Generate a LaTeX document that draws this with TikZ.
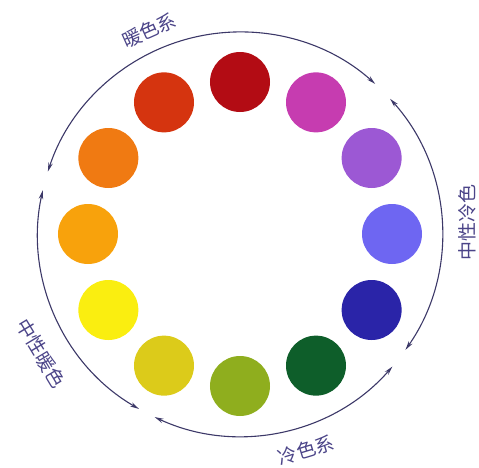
\documentclass[tikz,border=0pt]{standalone}
\usepackage{fontspec}
\newfontfamily\cjkfont{Noto Sans CJK SC}
\usepackage{xcolor}
\definecolor{hueA}{HTML}{B30C14}
\definecolor{hueB}{HTML}{C63CB0}
\definecolor{hueC}{HTML}{9C58D4}
\definecolor{hueD}{HTML}{6E66F2}
\definecolor{hueE}{HTML}{2A24A8}
\definecolor{hueF}{HTML}{0E5E2A}
\definecolor{hueG}{HTML}{8FAE1E}
\definecolor{hueH}{HTML}{DCCB1A}
\definecolor{hueI}{HTML}{FAEE10}
\definecolor{hueJ}{HTML}{F8A20C}
\definecolor{hueK}{HTML}{F07A12}
\definecolor{hueL}{HTML}{D5340F}
\definecolor{ringink}{HTML}{3C3868}
\definecolor{labelink}{HTML}{4B4488}
\usetikzlibrary{arrows.meta}
\tikzset{
  cdot/.style={circle, minimum size=60pt, inner sep=0pt},
  ar/.style={{Stealth[length=9pt,width=4.5pt]}-{Stealth[length=9pt,width=4.5pt]},
             draw=ringink, line width=1.1pt},
  lbl/.style={font=\cjkfont\fontsize{19}{19}\selectfont, text=labelink,
              inner sep=0pt},
}

\begin{document}
\begin{tikzpicture}[x=1pt, y=1pt]
  \useasboundingbox (-240,-233) rectangle (239,234);
  % colour dots
  \node[cdot, fill=hueA] (c1) at (90:152) {};
  \node[cdot, fill=hueB] (c2) at (60:152) {};
  \node[cdot, fill=hueC] (c3) at (30:152) {};
  \node[cdot, fill=hueD] (c4) at (0:152) {};
  \node[cdot, fill=hueE] (c5) at (-30:152) {};
  \node[cdot, fill=hueF] (c6) at (-60:152) {};
  \node[cdot, fill=hueG] (c7) at (-90:152) {};
  \node[cdot, fill=hueH] (c8) at (-120:152) {};
  \node[cdot, fill=hueI] (c9) at (-150:152) {};
  \node[cdot, fill=hueJ] (c10) at (180:152) {};
  \node[cdot, fill=hueK] (c11) at (150:152) {};
  \node[cdot, fill=hueL] (c12) at (120:152) {};
  % arc ends
  \coordinate (warmR) at (48:202);
  \coordinate (ncoolT) at (42:202);
  \coordinate (coolR) at (-41:202);
  \coordinate (nwarmB) at (-120:202);
  % arcs
  \draw[ar] (warmR) arc[start angle=48, end angle=162, radius=202];
  \draw[ar] (ncoolT) arc[start angle=42, end angle=-35, radius=202];
  \draw[ar] (coolR) arc[start angle=-41, end angle=-115, radius=202];
  \draw[ar] (nwarmB) arc[start angle=-120, end angle=-192.5, radius=202];
  % labels
  \node[lbl, rotate=24] (warm) at (114:223) {暖色系};
  \node[lbl, rotate=90] (ncool) at (3:228) {中性冷色};
  \node[lbl, rotate=17] (cool) at (-73:226) {冷色系};
  \node[lbl, rotate=-59] (nwarm) at (211:232) {中性暖色};
\end{tikzpicture}
\end{document}
